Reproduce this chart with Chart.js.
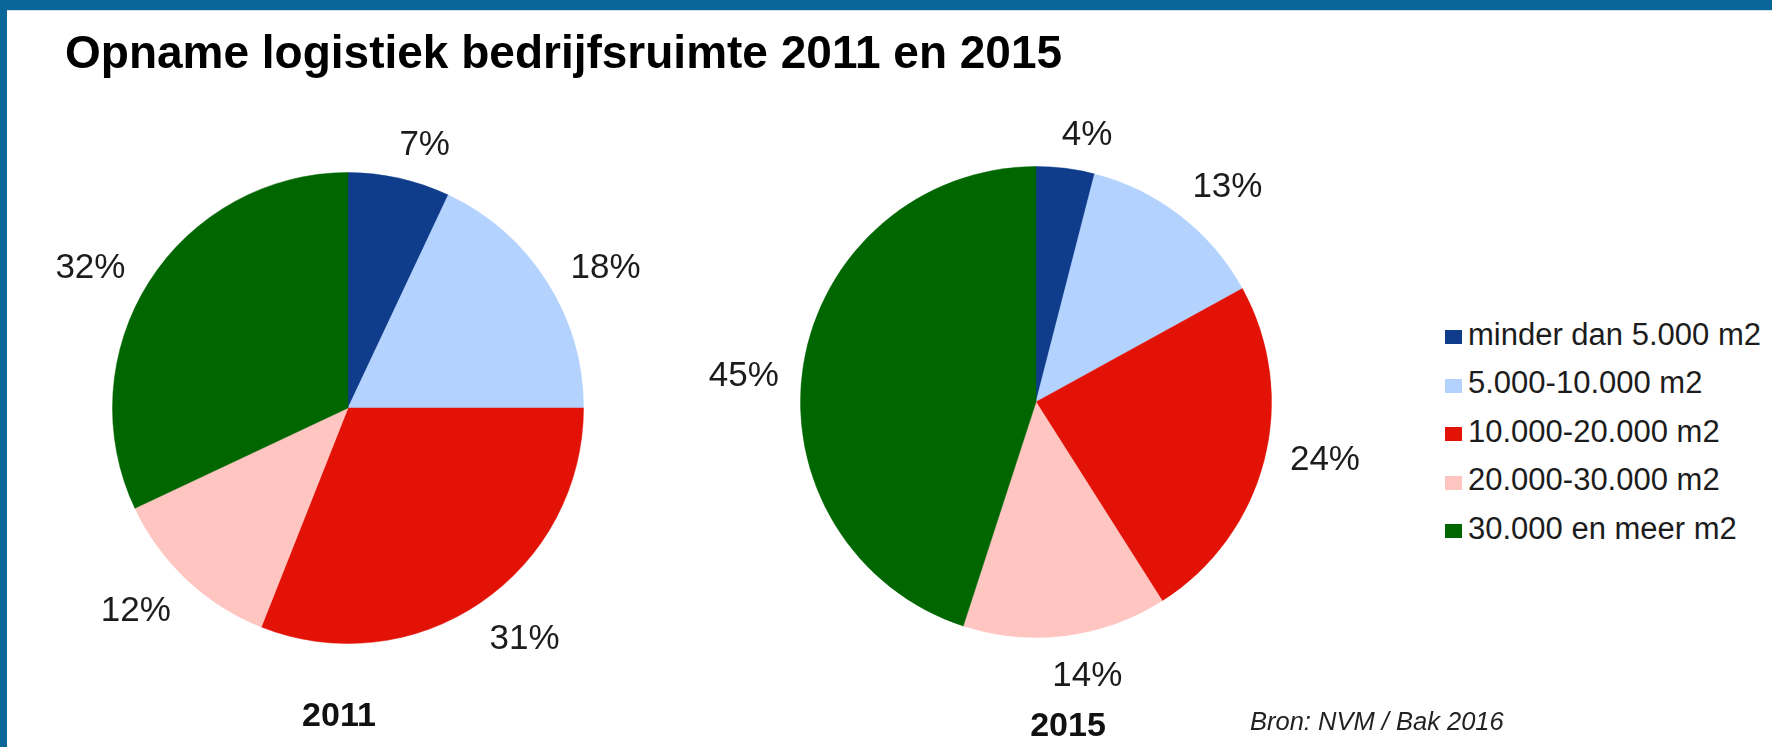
<!DOCTYPE html>
<html>
<head>
<meta charset="utf-8">
<script src="https://cdn.jsdelivr.net/npm/chart.js@4.4.1/dist/chart.umd.min.js"></script>
<style>
  html, body { margin: 0; padding: 0; background: #ffffff; }
  #page { position: relative; width: 1772px; height: 747px; overflow: hidden; background: #ffffff;
          font-family: "Liberation Sans", Arial, sans-serif; color: #1c1c1c; }
  #topband { position: absolute; left: 0; top: 0; width: 1772px; height: 10px; background: #0a6699; }
  #topline { position: absolute; left: 7px; top: 10px; width: 1765px; height: 1px; background: #cfe0ea; }
  #leftband { position: absolute; left: 0; top: 0; width: 7px; height: 747px; background: #0a6699; }
  .txt { position: absolute; white-space: nowrap; line-height: 1; }
  #title { left: 65px; font-size: 46px; font-weight: bold; color: #000; z-index: 5; }
  .year { font-size: 34px; font-weight: bold; color: #111; transform: translateX(-50%); }
  #bron { left: 1250px; font-size: 25.5px; font-style: italic; color: #222; }
  .leg-sq { position: absolute; width: 17px; height: 14px; }
  .leg-tx { position: absolute; font-size: 31px; line-height: 1; white-space: nowrap; color: #1c1c1c; }
  canvas { position: absolute; }
</style>
</head>
<body>
<div id="page">
  <div id="topband"></div>
  <div id="topline"></div>
  <div id="leftband"></div>
  <canvas id="pie2011" width="700" height="700"></canvas>
  <canvas id="pie2015" width="680" height="680"></canvas>
  <div id="title" class="txt">Opname logistiek bedrijfsruimte 2011 en 2015</div>
  <div id="y2011" class="txt year">2011</div>
  <div id="y2015" class="txt year">2015</div>
  <div id="bron" class="txt">Bron: NVM / Bak 2016</div>
  <div id="legend"></div>
</div>
<script>
// ---- data ----
const categories = ["minder dan 5.000 m2", "5.000-10.000 m2", "10.000-20.000 m2", "20.000-30.000 m2", "30.000 en meer m2"];
const values2011 = [7, 18, 31, 12, 32];
const values2015 = [4, 13, 24, 14, 45];
const yearLabels = ["2011", "2015"];
const sourceText = "Bron: NVM / Bak 2016";

// ---- styles ----
const sliceColors = ["#0f3d8c", "#b4d2fe", "#e31207", "#ffc5c1", "#006600"];
const FONT = '"Liberation Sans", Arial, sans-serif';
const LABEL_SIZE = 35;
const LABEL_GAP = 22;
const LABEL_TILT = 3.5 * Math.PI / 180; // labels lean slightly toward the horizontal

function placeBaseline(el, baseline, fs) { el.style.top = (baseline - 0.8465 * fs) + 'px'; }

placeBaseline(document.getElementById('title'), 68, 46);
const y1 = document.getElementById('y2011'); y1.textContent = yearLabels[0];
y1.style.left = '339px'; placeBaseline(y1, 726, 34);
const y2 = document.getElementById('y2015'); y2.textContent = yearLabels[1];
y2.style.left = '1068px'; placeBaseline(y2, 736, 34);
const bron = document.getElementById('bron'); bron.textContent = sourceText; placeBaseline(bron, 731, 25.5);

const legend = document.getElementById('legend');
categories.forEach((c, i) => {
  const baseline = 345 + i * 48.5;
  const sq = document.createElement('div');
  sq.className = 'leg-sq';
  sq.style.background = sliceColors[i];
  sq.style.left = '1445px';
  sq.style.top = (baseline - 15) + 'px';
  legend.appendChild(sq);
  const tx = document.createElement('div');
  tx.className = 'leg-tx';
  tx.textContent = c;
  tx.style.left = '1468px';
  placeBaseline(tx, baseline, 31);
  legend.appendChild(tx);
});

const outsideLabels = {
  id: 'outsideLabels',
  afterDatasetsDraw(chart) {
    const ctx = chart.ctx;
    const meta = chart.getDatasetMeta(0);
    const data = chart.data.datasets[0].data;
    const total = data.reduce((a, b) => a + b, 0);
    ctx.save();
    ctx.font = LABEL_SIZE + 'px ' + FONT;
    ctx.fillStyle = '#1c1c1c';
    ctx.textAlign = 'center';
    ctx.textBaseline = 'alphabetic';
    const capH = 0.716 * LABEL_SIZE;
    meta.data.forEach((arc, i) => {
      const p = arc.getProps(['x', 'y', 'startAngle', 'endAngle', 'outerRadius'], true);
      let mid = (p.startAngle + p.endAngle) / 2;
      // lean toward the horizontal axis
      mid += (Math.sin(mid) * Math.cos(mid) > 0 ? -1 : 1) * LABEL_TILT;
      const dx = Math.cos(mid), dy = Math.sin(mid);
      const txt = Math.round(data[i] / total * 100) + '%';
      const w = ctx.measureText(txt).width;
      const d = p.outerRadius + LABEL_GAP + Math.abs(dx) * w / 2 + Math.abs(dy) * capH / 2;
      ctx.fillText(txt, p.x + dx * d, p.y + dy * d + capH / 2);
    });
    ctx.restore();
  }
};

function makePie(id, values, cx, cy) {
  const cv = document.getElementById(id);
  const half = cv.width / 2;
  cv.style.left = (cx - half) + 'px';
  cv.style.top = (cy - half) + 'px';
  return new Chart(cv, {
    type: 'pie',
    data: {
      labels: categories,
      datasets: [{
        data: values,
        backgroundColor: sliceColors,
        borderColor: sliceColors,
        borderWidth: 0.5,
        radius: 235.5
      }]
    },
    options: {
      responsive: false,
      animation: false,
      events: [],
      layout: { padding: 0 },
      plugins: { legend: { display: false }, title: { display: false }, tooltip: { enabled: false } }
    },
    plugins: [outsideLabels]
  });
}

makePie('pie2011', values2011, 348, 407.5);
makePie('pie2015', values2015, 1036, 401.5);
</script>
</body>
</html>
